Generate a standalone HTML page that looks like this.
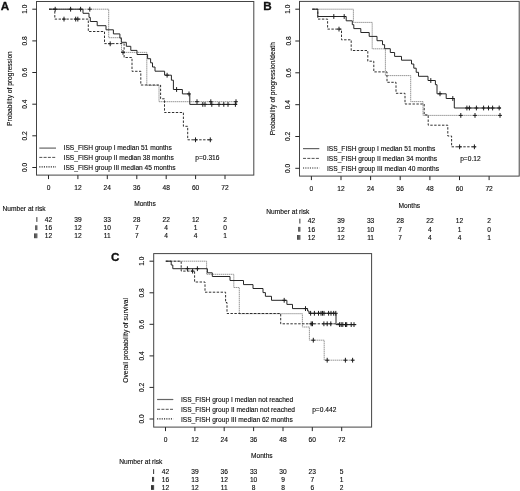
<!DOCTYPE html>
<html><head><meta charset="utf-8"><title>Figure</title>
<style>
html,body{margin:0;padding:0;background:#fff;}
body{width:520px;height:491px;overflow:hidden;font-family:"Liberation Sans", sans-serif;}
svg{display:block;font-family:"Liberation Sans", sans-serif;will-change:transform;}
</style></head>
<body>
<svg width="520" height="491" viewBox="0 0 520 491">
<rect x="0" y="0" width="520" height="491" fill="#ffffff"/>
<rect x="36.5" y="1.5" width="217.3" height="173.6" fill="none" stroke="#444" stroke-width="1"/>
<text x="24.7" y="169.89" text-anchor="middle" font-size="6.63" font-weight="normal" fill="#0a0a0a" stroke="#0a0a0a" stroke-width="0.12" transform="rotate(-90 24.7 167.5)">0.0</text>
<text x="24.7" y="138.23" text-anchor="middle" font-size="6.63" font-weight="normal" fill="#0a0a0a" stroke="#0a0a0a" stroke-width="0.12" transform="rotate(-90 24.7 135.8)">0.2</text>
<text x="24.7" y="106.57" text-anchor="middle" font-size="6.63" font-weight="normal" fill="#0a0a0a" stroke="#0a0a0a" stroke-width="0.12" transform="rotate(-90 24.7 104.2)">0.4</text>
<text x="24.7" y="74.91" text-anchor="middle" font-size="6.63" font-weight="normal" fill="#0a0a0a" stroke="#0a0a0a" stroke-width="0.12" transform="rotate(-90 24.7 72.5)">0.6</text>
<text x="24.7" y="43.25" text-anchor="middle" font-size="6.63" font-weight="normal" fill="#0a0a0a" stroke="#0a0a0a" stroke-width="0.12" transform="rotate(-90 24.7 40.9)">0.8</text>
<text x="24.7" y="11.59" text-anchor="middle" font-size="6.63" font-weight="normal" fill="#0a0a0a" stroke="#0a0a0a" stroke-width="0.12" transform="rotate(-90 24.7 9.2)">1.0</text>
<text x="48.5" y="189.99" text-anchor="middle" font-size="6.63" font-weight="normal" fill="#0a0a0a" stroke="#0a0a0a" stroke-width="0.12">0</text>
<text x="77.9" y="189.99" text-anchor="middle" font-size="6.63" font-weight="normal" fill="#0a0a0a" stroke="#0a0a0a" stroke-width="0.12">12</text>
<text x="107.3" y="189.99" text-anchor="middle" font-size="6.63" font-weight="normal" fill="#0a0a0a" stroke="#0a0a0a" stroke-width="0.12">24</text>
<text x="136.8" y="189.99" text-anchor="middle" font-size="6.63" font-weight="normal" fill="#0a0a0a" stroke="#0a0a0a" stroke-width="0.12">36</text>
<text x="166.2" y="189.99" text-anchor="middle" font-size="6.63" font-weight="normal" fill="#0a0a0a" stroke="#0a0a0a" stroke-width="0.12">48</text>
<text x="195.6" y="189.99" text-anchor="middle" font-size="6.63" font-weight="normal" fill="#0a0a0a" stroke="#0a0a0a" stroke-width="0.12">60</text>
<text x="225.0" y="189.99" text-anchor="middle" font-size="6.63" font-weight="normal" fill="#0a0a0a" stroke="#0a0a0a" stroke-width="0.12">72</text>
<path d="M32.3,167.5H36.5M32.3,135.8H36.5M32.3,104.2H36.5M32.3,72.5H36.5M32.3,40.9H36.5M32.3,9.2H36.5M48.5,175.1V179.1M77.9,175.1V179.1M107.3,175.1V179.1M136.8,175.1V179.1M166.2,175.1V179.1M195.6,175.1V179.1M225.0,175.1V179.1" fill="none" stroke="#262626" stroke-width="1.0"/>
<text x="9.3" y="90.99" text-anchor="middle" font-size="6.63" font-weight="normal" fill="#0a0a0a" stroke="#0a0a0a" stroke-width="0.12" transform="rotate(-90 9.3 88.6)">Probability of progression</text>
<text x="145.0" y="205.89" text-anchor="middle" font-size="6.63" font-weight="normal" fill="#0a0a0a" stroke="#0a0a0a" stroke-width="0.12">Months</text>
<text x="0.8" y="9.71" text-anchor="start" font-size="11.7" font-weight="bold" fill="#111" stroke="#111" stroke-width="0.3">A</text>
<path d="M39.3,148.1H56" stroke="#666" stroke-width="1.2" fill="none"/>
<path d="M39.3,157.4H56" stroke="#262626" stroke-width="0.8" stroke-dasharray="3 1.3" fill="none"/>
<path d="M39.3,166.9H56" stroke="#222" stroke-width="1.2" stroke-dasharray="1.1 1.2" fill="none"/>
<text x="63.6" y="150.49" text-anchor="start" font-size="6.63" font-weight="normal" fill="#0a0a0a" stroke="#0a0a0a" stroke-width="0.12">ISS_FISH group I median 51 months</text>
<text x="63.6" y="159.79" text-anchor="start" font-size="6.63" font-weight="normal" fill="#0a0a0a" stroke="#0a0a0a" stroke-width="0.12">ISS_FISH group II median 38 months</text>
<text x="63.6" y="169.79" text-anchor="start" font-size="6.63" font-weight="normal" fill="#0a0a0a" stroke="#0a0a0a" stroke-width="0.12">ISS_FISH group III median 45 months</text>
<text x="195.3" y="159.79" text-anchor="start" font-size="6.63" font-weight="normal" fill="#0a0a0a" stroke="#0a0a0a" stroke-width="0.12">p=0.316</text>
<path d="M49.0,9.2H108.7V37.7H121.5V52.4H146.8V85.3H159.0V101.7H237.0" fill="none" stroke="#8c8c8c" stroke-width="0.9" stroke-dasharray="1.5 0.5"/>
<path d="M89.8,6.8v4.8M87.9,9.2h3.8M123.0,50.0v4.8M121.1,52.4h3.8M197.0,99.3v4.8M195.1,101.7h3.8M210.8,99.3v4.8M208.9,101.7h3.8M236.0,99.3v4.8M234.1,101.7h3.8" fill="none" stroke="#1c1c1c" stroke-width="1.0"/>
<path d="M49.0,9.2H54.8V19.1H88.3V31.5H104.5V43.6H124.1V57.5H132.0V71.3H140.8V85.0H160.6V98.8H164.5V112.5H183.4V126.3H187.7V139.8H211.0" fill="none" stroke="#262626" stroke-width="0.95" stroke-dasharray="2.4 1.5"/>
<path d="M64.0,16.7v4.8M62.1,19.1h3.8M75.7,16.7v4.8M73.8,19.1h3.8M77.8,16.7v4.8M75.9,19.1h3.8M110.2,41.4v4.8M108.3,43.8h3.8M195.5,137.4v4.8M193.6,139.8h3.8M210.3,137.4v4.8M208.4,139.8h3.8" fill="none" stroke="#1c1c1c" stroke-width="1.0"/>
<path d="M49.0,9.2H83.0V13.3H89.0V17.4H90.3V21.5H97.2V25.7H106.0V29.8H113.4V33.9H119.9V38.1H121.3V42.3H126.3V46.3H130.8V50.4H137.0V54.5H147.6V58.7H150.6V62.8H152.5V67.0H155.0V71.2H164.6V75.2H171.4V80.2H173.4V89.5H182.4V93.9H189.8V104.4H237.0" fill="none" stroke="#262626" stroke-width="1.0" stroke-linejoin="miter"/>
<path d="M55.2,6.8v4.8M53.3,9.2h3.8M70.6,6.8v4.8M68.7,9.2h3.8M80.6,6.8v4.8M78.7,9.2h3.8M167.1,72.8v4.8M165.2,75.2h3.8M176.6,87.1v4.8M174.7,89.5h3.8M189.0,91.5v4.8M187.1,93.9h3.8M202.8,102.0v4.8M200.9,104.4h3.8M205.0,102.0v4.8M203.1,104.4h3.8M211.8,102.0v4.8M209.9,104.4h3.8M219.0,102.0v4.8M217.1,104.4h3.8M223.8,102.0v4.8M221.9,104.4h3.8M228.0,102.0v4.8M226.1,104.4h3.8M235.4,102.0v4.8M233.5,104.4h3.8" fill="none" stroke="#1c1c1c" stroke-width="1.0"/>
<text x="2.5" y="211.49" text-anchor="start" font-size="6.63" font-weight="normal" fill="#0a0a0a" stroke="#0a0a0a" stroke-width="0.12">Number at risk</text>
<rect x="36.45" y="217.10" width="0.85" height="4.8" fill="#111"/>
<text x="48.5" y="221.89" text-anchor="middle" font-size="6.63" font-weight="normal" fill="#0a0a0a" stroke="#0a0a0a" stroke-width="0.12">42</text>
<text x="77.9" y="221.89" text-anchor="middle" font-size="6.63" font-weight="normal" fill="#0a0a0a" stroke="#0a0a0a" stroke-width="0.12">39</text>
<text x="107.3" y="221.89" text-anchor="middle" font-size="6.63" font-weight="normal" fill="#0a0a0a" stroke="#0a0a0a" stroke-width="0.12">33</text>
<text x="136.8" y="221.89" text-anchor="middle" font-size="6.63" font-weight="normal" fill="#0a0a0a" stroke="#0a0a0a" stroke-width="0.12">28</text>
<text x="166.2" y="221.89" text-anchor="middle" font-size="6.63" font-weight="normal" fill="#0a0a0a" stroke="#0a0a0a" stroke-width="0.12">22</text>
<text x="195.6" y="221.89" text-anchor="middle" font-size="6.63" font-weight="normal" fill="#0a0a0a" stroke="#0a0a0a" stroke-width="0.12">12</text>
<text x="225.0" y="221.89" text-anchor="middle" font-size="6.63" font-weight="normal" fill="#0a0a0a" stroke="#0a0a0a" stroke-width="0.12">2</text>
<rect x="36.45" y="225.30" width="0.85" height="4.8" fill="#111"/>
<rect x="35.35" y="225.30" width="0.85" height="4.8" fill="#111"/>
<text x="48.5" y="230.09" text-anchor="middle" font-size="6.63" font-weight="normal" fill="#0a0a0a" stroke="#0a0a0a" stroke-width="0.12">16</text>
<text x="77.9" y="230.09" text-anchor="middle" font-size="6.63" font-weight="normal" fill="#0a0a0a" stroke="#0a0a0a" stroke-width="0.12">12</text>
<text x="107.3" y="230.09" text-anchor="middle" font-size="6.63" font-weight="normal" fill="#0a0a0a" stroke="#0a0a0a" stroke-width="0.12">10</text>
<text x="136.8" y="230.09" text-anchor="middle" font-size="6.63" font-weight="normal" fill="#0a0a0a" stroke="#0a0a0a" stroke-width="0.12">7</text>
<text x="166.2" y="230.09" text-anchor="middle" font-size="6.63" font-weight="normal" fill="#0a0a0a" stroke="#0a0a0a" stroke-width="0.12">4</text>
<text x="195.6" y="230.09" text-anchor="middle" font-size="6.63" font-weight="normal" fill="#0a0a0a" stroke="#0a0a0a" stroke-width="0.12">1</text>
<text x="225.0" y="230.09" text-anchor="middle" font-size="6.63" font-weight="normal" fill="#0a0a0a" stroke="#0a0a0a" stroke-width="0.12">0</text>
<rect x="36.45" y="233.40" width="0.85" height="4.8" fill="#111"/>
<rect x="35.35" y="233.40" width="0.85" height="4.8" fill="#111"/>
<rect x="34.25" y="233.40" width="0.85" height="4.8" fill="#111"/>
<text x="48.5" y="238.19" text-anchor="middle" font-size="6.63" font-weight="normal" fill="#0a0a0a" stroke="#0a0a0a" stroke-width="0.12">12</text>
<text x="77.9" y="238.19" text-anchor="middle" font-size="6.63" font-weight="normal" fill="#0a0a0a" stroke="#0a0a0a" stroke-width="0.12">12</text>
<text x="107.3" y="238.19" text-anchor="middle" font-size="6.63" font-weight="normal" fill="#0a0a0a" stroke="#0a0a0a" stroke-width="0.12">11</text>
<text x="136.8" y="238.19" text-anchor="middle" font-size="6.63" font-weight="normal" fill="#0a0a0a" stroke="#0a0a0a" stroke-width="0.12">7</text>
<text x="166.2" y="238.19" text-anchor="middle" font-size="6.63" font-weight="normal" fill="#0a0a0a" stroke="#0a0a0a" stroke-width="0.12">4</text>
<text x="195.6" y="238.19" text-anchor="middle" font-size="6.63" font-weight="normal" fill="#0a0a0a" stroke="#0a0a0a" stroke-width="0.12">4</text>
<text x="225.0" y="238.19" text-anchor="middle" font-size="6.63" font-weight="normal" fill="#0a0a0a" stroke="#0a0a0a" stroke-width="0.12">1</text>
<rect x="299.5" y="1.4" width="219.7" height="174.7" fill="none" stroke="#444" stroke-width="1"/>
<text x="288.1" y="170.69" text-anchor="middle" font-size="6.63" font-weight="normal" fill="#0a0a0a" stroke="#0a0a0a" stroke-width="0.12" transform="rotate(-90 288.1 168.3)">0.0</text>
<text x="288.1" y="138.87" text-anchor="middle" font-size="6.63" font-weight="normal" fill="#0a0a0a" stroke="#0a0a0a" stroke-width="0.12" transform="rotate(-90 288.1 136.5)">0.2</text>
<text x="288.1" y="107.05" text-anchor="middle" font-size="6.63" font-weight="normal" fill="#0a0a0a" stroke="#0a0a0a" stroke-width="0.12" transform="rotate(-90 288.1 104.7)">0.4</text>
<text x="288.1" y="75.23" text-anchor="middle" font-size="6.63" font-weight="normal" fill="#0a0a0a" stroke="#0a0a0a" stroke-width="0.12" transform="rotate(-90 288.1 72.8)">0.6</text>
<text x="288.1" y="43.41" text-anchor="middle" font-size="6.63" font-weight="normal" fill="#0a0a0a" stroke="#0a0a0a" stroke-width="0.12" transform="rotate(-90 288.1 41.0)">0.8</text>
<text x="288.1" y="11.59" text-anchor="middle" font-size="6.63" font-weight="normal" fill="#0a0a0a" stroke="#0a0a0a" stroke-width="0.12" transform="rotate(-90 288.1 9.2)">1.0</text>
<text x="311.4" y="191.09" text-anchor="middle" font-size="6.63" font-weight="normal" fill="#0a0a0a" stroke="#0a0a0a" stroke-width="0.12">0</text>
<text x="341.0" y="191.09" text-anchor="middle" font-size="6.63" font-weight="normal" fill="#0a0a0a" stroke="#0a0a0a" stroke-width="0.12">12</text>
<text x="370.6" y="191.09" text-anchor="middle" font-size="6.63" font-weight="normal" fill="#0a0a0a" stroke="#0a0a0a" stroke-width="0.12">24</text>
<text x="400.2" y="191.09" text-anchor="middle" font-size="6.63" font-weight="normal" fill="#0a0a0a" stroke="#0a0a0a" stroke-width="0.12">36</text>
<text x="429.9" y="191.09" text-anchor="middle" font-size="6.63" font-weight="normal" fill="#0a0a0a" stroke="#0a0a0a" stroke-width="0.12">48</text>
<text x="459.5" y="191.09" text-anchor="middle" font-size="6.63" font-weight="normal" fill="#0a0a0a" stroke="#0a0a0a" stroke-width="0.12">60</text>
<text x="489.1" y="191.09" text-anchor="middle" font-size="6.63" font-weight="normal" fill="#0a0a0a" stroke="#0a0a0a" stroke-width="0.12">72</text>
<path d="M295.3,168.3H299.5M295.3,136.5H299.5M295.3,104.7H299.5M295.3,72.8H299.5M295.3,41.0H299.5M295.3,9.2H299.5M311.4,176.1V180.1M341.0,176.1V180.1M370.6,176.1V180.1M400.2,176.1V180.1M429.9,176.1V180.1M459.5,176.1V180.1M489.1,176.1V180.1" fill="none" stroke="#262626" stroke-width="1.0"/>
<text x="272.7" y="91.09" text-anchor="middle" font-size="6.63" font-weight="normal" fill="#0a0a0a" stroke="#0a0a0a" stroke-width="0.12" transform="rotate(-90 272.7 88.7)">Probability of progression/death</text>
<text x="409.3" y="207.89" text-anchor="middle" font-size="6.63" font-weight="normal" fill="#0a0a0a" stroke="#0a0a0a" stroke-width="0.12">Months</text>
<text x="263.3" y="9.61" text-anchor="start" font-size="11.7" font-weight="bold" fill="#111" stroke="#111" stroke-width="0.3">B</text>
<path d="M303,148.6H319.3" stroke="#666" stroke-width="1.2" fill="none"/>
<path d="M303,158.4H319.3" stroke="#262626" stroke-width="0.8" stroke-dasharray="3 1.3" fill="none"/>
<path d="M303,168.0H319.3" stroke="#222" stroke-width="1.2" stroke-dasharray="1.1 1.2" fill="none"/>
<text x="327.0" y="150.99" text-anchor="start" font-size="6.63" font-weight="normal" fill="#0a0a0a" stroke="#0a0a0a" stroke-width="0.12">ISS_FISH group I median 51 months</text>
<text x="327.0" y="160.79" text-anchor="start" font-size="6.63" font-weight="normal" fill="#0a0a0a" stroke="#0a0a0a" stroke-width="0.12">ISS_FISH group II median 34 months</text>
<text x="327.0" y="170.89" text-anchor="start" font-size="6.63" font-weight="normal" fill="#0a0a0a" stroke="#0a0a0a" stroke-width="0.12">ISS_FISH group III median 40 months</text>
<text x="460.2" y="160.79" text-anchor="start" font-size="6.63" font-weight="normal" fill="#0a0a0a" stroke="#0a0a0a" stroke-width="0.12">p=0.12</text>
<path d="M312.3,9.2H353.4V22.4H372.2V48.8H385.4V75.6H410.7V101.6H423.0V115.4H501.8" fill="none" stroke="#8c8c8c" stroke-width="0.9" stroke-dasharray="1.5 0.5"/>
<path d="M460.8,113.0v4.8M458.9,115.4h3.8M475.0,113.0v4.8M473.1,115.4h3.8M500.0,113.0v4.8M498.1,115.4h3.8" fill="none" stroke="#1c1c1c" stroke-width="1.0"/>
<path d="M312.3,9.2H317.8V19.1H327.6V29.1H341.5V39.8H351.2V50.5H367.8V61.2H373.8V71.9H387.0V82.3H396.0V93.3H405.0V104.0H424.2V114.9H428.2V125.2H447.8V136.0H451.6V146.8H475.8" fill="none" stroke="#262626" stroke-width="0.95" stroke-dasharray="2.4 1.5"/>
<path d="M339.0,26.7v4.8M337.1,29.1h3.8M459.6,144.4v4.8M457.7,146.8h3.8M474.4,144.4v4.8M472.5,146.8h3.8" fill="none" stroke="#1c1c1c" stroke-width="1.0"/>
<path d="M312.3,9.2H317.8V16.5H346.2V20.8H352.3V24.7H353.8V28.6H360.8V32.5H369.2V36.4H377.0V40.7H382.5V44.7H384.6V48.7H390.3V52.5H394.6V56.4H401.5V60.2H411.5V64.0H413.8V68.2H416.2V72.3H418.5V76.3H428.0V80.5H435.4V84.7H437.0V93.8H446.2V98.5H454.3V108.0H501.0" fill="none" stroke="#262626" stroke-width="1.0" stroke-linejoin="miter"/>
<path d="M333.8,14.1v4.8M331.9,16.5h3.8M344.2,14.1v4.8M342.3,16.5h3.8M430.8,78.1v4.8M428.9,80.5h3.8M440.0,91.4v4.8M438.1,93.8h3.8M452.8,96.1v4.8M450.9,98.5h3.8M466.9,105.6v4.8M465.0,108.0h3.8M469.4,105.6v4.8M467.5,108.0h3.8M476.4,105.6v4.8M474.5,108.0h3.8M483.6,105.6v4.8M481.7,108.0h3.8M488.5,105.6v4.8M486.6,108.0h3.8M492.6,105.6v4.8M490.7,108.0h3.8M499.2,105.6v4.8M497.3,108.0h3.8" fill="none" stroke="#1c1c1c" stroke-width="1.0"/>
<text x="266.3" y="213.79" text-anchor="start" font-size="6.63" font-weight="normal" fill="#0a0a0a" stroke="#0a0a0a" stroke-width="0.12">Number at risk</text>
<rect x="299.45" y="218.70" width="0.85" height="4.8" fill="#111"/>
<text x="311.4" y="223.49" text-anchor="middle" font-size="6.63" font-weight="normal" fill="#0a0a0a" stroke="#0a0a0a" stroke-width="0.12">42</text>
<text x="341.0" y="223.49" text-anchor="middle" font-size="6.63" font-weight="normal" fill="#0a0a0a" stroke="#0a0a0a" stroke-width="0.12">39</text>
<text x="370.6" y="223.49" text-anchor="middle" font-size="6.63" font-weight="normal" fill="#0a0a0a" stroke="#0a0a0a" stroke-width="0.12">33</text>
<text x="400.2" y="223.49" text-anchor="middle" font-size="6.63" font-weight="normal" fill="#0a0a0a" stroke="#0a0a0a" stroke-width="0.12">28</text>
<text x="429.9" y="223.49" text-anchor="middle" font-size="6.63" font-weight="normal" fill="#0a0a0a" stroke="#0a0a0a" stroke-width="0.12">22</text>
<text x="459.5" y="223.49" text-anchor="middle" font-size="6.63" font-weight="normal" fill="#0a0a0a" stroke="#0a0a0a" stroke-width="0.12">12</text>
<text x="489.1" y="223.49" text-anchor="middle" font-size="6.63" font-weight="normal" fill="#0a0a0a" stroke="#0a0a0a" stroke-width="0.12">2</text>
<rect x="299.45" y="226.90" width="0.85" height="4.8" fill="#111"/>
<rect x="298.35" y="226.90" width="0.85" height="4.8" fill="#111"/>
<text x="311.4" y="231.69" text-anchor="middle" font-size="6.63" font-weight="normal" fill="#0a0a0a" stroke="#0a0a0a" stroke-width="0.12">16</text>
<text x="341.0" y="231.69" text-anchor="middle" font-size="6.63" font-weight="normal" fill="#0a0a0a" stroke="#0a0a0a" stroke-width="0.12">12</text>
<text x="370.6" y="231.69" text-anchor="middle" font-size="6.63" font-weight="normal" fill="#0a0a0a" stroke="#0a0a0a" stroke-width="0.12">10</text>
<text x="400.2" y="231.69" text-anchor="middle" font-size="6.63" font-weight="normal" fill="#0a0a0a" stroke="#0a0a0a" stroke-width="0.12">7</text>
<text x="429.9" y="231.69" text-anchor="middle" font-size="6.63" font-weight="normal" fill="#0a0a0a" stroke="#0a0a0a" stroke-width="0.12">4</text>
<text x="459.5" y="231.69" text-anchor="middle" font-size="6.63" font-weight="normal" fill="#0a0a0a" stroke="#0a0a0a" stroke-width="0.12">1</text>
<text x="489.1" y="231.69" text-anchor="middle" font-size="6.63" font-weight="normal" fill="#0a0a0a" stroke="#0a0a0a" stroke-width="0.12">0</text>
<rect x="299.45" y="235.00" width="0.85" height="4.8" fill="#111"/>
<rect x="298.35" y="235.00" width="0.85" height="4.8" fill="#111"/>
<rect x="297.25" y="235.00" width="0.85" height="4.8" fill="#111"/>
<text x="311.4" y="239.79" text-anchor="middle" font-size="6.63" font-weight="normal" fill="#0a0a0a" stroke="#0a0a0a" stroke-width="0.12">12</text>
<text x="341.0" y="239.79" text-anchor="middle" font-size="6.63" font-weight="normal" fill="#0a0a0a" stroke="#0a0a0a" stroke-width="0.12">12</text>
<text x="370.6" y="239.79" text-anchor="middle" font-size="6.63" font-weight="normal" fill="#0a0a0a" stroke="#0a0a0a" stroke-width="0.12">11</text>
<text x="400.2" y="239.79" text-anchor="middle" font-size="6.63" font-weight="normal" fill="#0a0a0a" stroke="#0a0a0a" stroke-width="0.12">7</text>
<text x="429.9" y="239.79" text-anchor="middle" font-size="6.63" font-weight="normal" fill="#0a0a0a" stroke="#0a0a0a" stroke-width="0.12">4</text>
<text x="459.5" y="239.79" text-anchor="middle" font-size="6.63" font-weight="normal" fill="#0a0a0a" stroke="#0a0a0a" stroke-width="0.12">4</text>
<text x="489.1" y="239.79" text-anchor="middle" font-size="6.63" font-weight="normal" fill="#0a0a0a" stroke="#0a0a0a" stroke-width="0.12">1</text>
<rect x="153.7" y="253.6" width="217.9" height="173.5" fill="none" stroke="#444" stroke-width="1"/>
<text x="141.7" y="421.39" text-anchor="middle" font-size="6.63" font-weight="normal" fill="#0a0a0a" stroke="#0a0a0a" stroke-width="0.12" transform="rotate(-90 141.7 419.0)">0.0</text>
<text x="141.7" y="389.83" text-anchor="middle" font-size="6.63" font-weight="normal" fill="#0a0a0a" stroke="#0a0a0a" stroke-width="0.12" transform="rotate(-90 141.7 387.4)">0.2</text>
<text x="141.7" y="358.27" text-anchor="middle" font-size="6.63" font-weight="normal" fill="#0a0a0a" stroke="#0a0a0a" stroke-width="0.12" transform="rotate(-90 141.7 355.9)">0.4</text>
<text x="141.7" y="326.71" text-anchor="middle" font-size="6.63" font-weight="normal" fill="#0a0a0a" stroke="#0a0a0a" stroke-width="0.12" transform="rotate(-90 141.7 324.3)">0.6</text>
<text x="141.7" y="295.15" text-anchor="middle" font-size="6.63" font-weight="normal" fill="#0a0a0a" stroke="#0a0a0a" stroke-width="0.12" transform="rotate(-90 141.7 292.8)">0.8</text>
<text x="141.7" y="263.59" text-anchor="middle" font-size="6.63" font-weight="normal" fill="#0a0a0a" stroke="#0a0a0a" stroke-width="0.12" transform="rotate(-90 141.7 261.2)">1.0</text>
<text x="165.5" y="441.69" text-anchor="middle" font-size="6.63" font-weight="normal" fill="#0a0a0a" stroke="#0a0a0a" stroke-width="0.12">0</text>
<text x="194.9" y="441.69" text-anchor="middle" font-size="6.63" font-weight="normal" fill="#0a0a0a" stroke="#0a0a0a" stroke-width="0.12">12</text>
<text x="224.2" y="441.69" text-anchor="middle" font-size="6.63" font-weight="normal" fill="#0a0a0a" stroke="#0a0a0a" stroke-width="0.12">24</text>
<text x="253.6" y="441.69" text-anchor="middle" font-size="6.63" font-weight="normal" fill="#0a0a0a" stroke="#0a0a0a" stroke-width="0.12">36</text>
<text x="283.0" y="441.69" text-anchor="middle" font-size="6.63" font-weight="normal" fill="#0a0a0a" stroke="#0a0a0a" stroke-width="0.12">48</text>
<text x="312.3" y="441.69" text-anchor="middle" font-size="6.63" font-weight="normal" fill="#0a0a0a" stroke="#0a0a0a" stroke-width="0.12">60</text>
<text x="341.7" y="441.69" text-anchor="middle" font-size="6.63" font-weight="normal" fill="#0a0a0a" stroke="#0a0a0a" stroke-width="0.12">72</text>
<path d="M149.5,419.0H153.7M149.5,387.4H153.7M149.5,355.9H153.7M149.5,324.3H153.7M149.5,292.8H153.7M149.5,261.2H153.7M165.5,427.1V431.1M194.9,427.1V431.1M224.2,427.1V431.1M253.6,427.1V431.1M283.0,427.1V431.1M312.3,427.1V431.1M341.7,427.1V431.1" fill="none" stroke="#262626" stroke-width="1.0"/>
<text x="125.8" y="342.79" text-anchor="middle" font-size="6.63" font-weight="normal" fill="#0a0a0a" stroke="#0a0a0a" stroke-width="0.12" transform="rotate(-90 125.8 340.4)">Overall probability of survival</text>
<text x="261.8" y="458.39" text-anchor="middle" font-size="6.63" font-weight="normal" fill="#0a0a0a" stroke="#0a0a0a" stroke-width="0.12">Months</text>
<text x="111.0" y="260.51" text-anchor="start" font-size="11.7" font-weight="bold" fill="#111" stroke="#111" stroke-width="0.3">C</text>
<path d="M157.1,399.5H173.3" stroke="#666" stroke-width="1.2" fill="none"/>
<path d="M157.1,409.3H173.3" stroke="#262626" stroke-width="0.8" stroke-dasharray="3 1.3" fill="none"/>
<path d="M157.1,418.9H173.3" stroke="#222" stroke-width="1.2" stroke-dasharray="1.1 1.2" fill="none"/>
<text x="180.9" y="401.89" text-anchor="start" font-size="6.63" font-weight="normal" fill="#0a0a0a" stroke="#0a0a0a" stroke-width="0.12">ISS_FISH group I median not reached</text>
<text x="180.9" y="411.69" text-anchor="start" font-size="6.63" font-weight="normal" fill="#0a0a0a" stroke="#0a0a0a" stroke-width="0.12">ISS_FISH group II median not reached</text>
<text x="180.9" y="421.59" text-anchor="start" font-size="6.63" font-weight="normal" fill="#0a0a0a" stroke="#0a0a0a" stroke-width="0.12">ISS_FISH group III median 62 months</text>
<text x="312.2" y="411.69" text-anchor="start" font-size="6.63" font-weight="normal" fill="#0a0a0a" stroke="#0a0a0a" stroke-width="0.12">p=0.442</text>
<path d="M165.8,261.2H206.6V274.3H233.8V287.5H239.3V313.7H302.4V327.0H309.4V340.2H324.2V360.2H355.0" fill="none" stroke="#8c8c8c" stroke-width="0.9" stroke-dasharray="1.5 0.5"/>
<path d="M313.3,337.8v4.8M311.4,340.2h3.8M327.2,357.8v4.8M325.3,360.2h3.8M345.4,357.8v4.8M343.5,360.2h3.8M352.6,357.8v4.8M350.7,360.2h3.8" fill="none" stroke="#1c1c1c" stroke-width="1.0"/>
<path d="M165.8,261.2H181.2V271.1H194.6V282.0H205.0V292.2H225.6V302.5H227.0V313.5H280.7V323.8H340.0" fill="none" stroke="#262626" stroke-width="0.95" stroke-dasharray="2.4 1.5"/>
<path d="M192.6,268.7v4.8M190.7,271.1h3.8M311.2,321.4v4.8M309.3,323.8h3.8M312.5,321.4v4.8M310.6,323.8h3.8M323.9,321.4v4.8M322.0,323.8h3.8M327.2,321.4v4.8M325.3,323.8h3.8M330.8,321.4v4.8M328.9,323.8h3.8" fill="none" stroke="#1c1c1c" stroke-width="1.0"/>
<path d="M165.8,261.2H171.2V265.0H172.8V268.7H207.4V272.8H212.3V276.5H230.0V280.5H243.5V284.6H253.0V288.5H263.0V292.6H265.4V296.3H271.5V300.3H286.9V304.4H292.5V308.6H307.6V311.0H309.0V313.3H336.0V324.6H356.3" fill="none" stroke="#262626" stroke-width="1.0" stroke-linejoin="miter"/>
<path d="M187.4,266.3v4.8M185.5,268.7h3.8M197.4,266.3v4.8M195.5,268.7h3.8M284.2,297.9v4.8M282.3,300.3h3.8M305.5,306.2v4.8M303.6,308.6h3.8M310.6,310.9v4.8M308.7,313.3h3.8M314.4,310.9v4.8M312.5,313.3h3.8M318.5,310.9v4.8M316.6,313.3h3.8M321.0,310.9v4.8M319.1,313.3h3.8M322.5,310.9v4.8M320.6,313.3h3.8M324.0,310.9v4.8M322.1,313.3h3.8M328.6,310.9v4.8M326.7,313.3h3.8M331.0,310.9v4.8M329.1,313.3h3.8M333.7,310.9v4.8M331.8,313.3h3.8M335.8,310.9v4.8M333.9,313.3h3.8M339.6,322.2v4.8M337.7,324.6h3.8M341.2,322.2v4.8M339.3,324.6h3.8M342.8,322.2v4.8M340.9,324.6h3.8M345.5,322.2v4.8M343.6,324.6h3.8M346.7,322.2v4.8M344.8,324.6h3.8M351.2,322.2v4.8M349.3,324.6h3.8M354.0,322.2v4.8M352.1,324.6h3.8" fill="none" stroke="#1c1c1c" stroke-width="1.0"/>
<text x="119.3" y="463.59" text-anchor="start" font-size="6.63" font-weight="normal" fill="#0a0a0a" stroke="#0a0a0a" stroke-width="0.12">Number at risk</text>
<rect x="153.25" y="469.20" width="0.85" height="4.8" fill="#111"/>
<text x="165.5" y="473.99" text-anchor="middle" font-size="6.63" font-weight="normal" fill="#0a0a0a" stroke="#0a0a0a" stroke-width="0.12">42</text>
<text x="194.9" y="473.99" text-anchor="middle" font-size="6.63" font-weight="normal" fill="#0a0a0a" stroke="#0a0a0a" stroke-width="0.12">39</text>
<text x="224.2" y="473.99" text-anchor="middle" font-size="6.63" font-weight="normal" fill="#0a0a0a" stroke="#0a0a0a" stroke-width="0.12">36</text>
<text x="253.6" y="473.99" text-anchor="middle" font-size="6.63" font-weight="normal" fill="#0a0a0a" stroke="#0a0a0a" stroke-width="0.12">33</text>
<text x="283.0" y="473.99" text-anchor="middle" font-size="6.63" font-weight="normal" fill="#0a0a0a" stroke="#0a0a0a" stroke-width="0.12">30</text>
<text x="312.3" y="473.99" text-anchor="middle" font-size="6.63" font-weight="normal" fill="#0a0a0a" stroke="#0a0a0a" stroke-width="0.12">23</text>
<text x="341.7" y="473.99" text-anchor="middle" font-size="6.63" font-weight="normal" fill="#0a0a0a" stroke="#0a0a0a" stroke-width="0.12">5</text>
<rect x="153.25" y="476.90" width="0.85" height="4.8" fill="#111"/>
<rect x="152.15" y="476.90" width="0.85" height="4.8" fill="#111"/>
<text x="165.5" y="481.69" text-anchor="middle" font-size="6.63" font-weight="normal" fill="#0a0a0a" stroke="#0a0a0a" stroke-width="0.12">16</text>
<text x="194.9" y="481.69" text-anchor="middle" font-size="6.63" font-weight="normal" fill="#0a0a0a" stroke="#0a0a0a" stroke-width="0.12">13</text>
<text x="224.2" y="481.69" text-anchor="middle" font-size="6.63" font-weight="normal" fill="#0a0a0a" stroke="#0a0a0a" stroke-width="0.12">12</text>
<text x="253.6" y="481.69" text-anchor="middle" font-size="6.63" font-weight="normal" fill="#0a0a0a" stroke="#0a0a0a" stroke-width="0.12">10</text>
<text x="283.0" y="481.69" text-anchor="middle" font-size="6.63" font-weight="normal" fill="#0a0a0a" stroke="#0a0a0a" stroke-width="0.12">9</text>
<text x="312.3" y="481.69" text-anchor="middle" font-size="6.63" font-weight="normal" fill="#0a0a0a" stroke="#0a0a0a" stroke-width="0.12">7</text>
<text x="341.7" y="481.69" text-anchor="middle" font-size="6.63" font-weight="normal" fill="#0a0a0a" stroke="#0a0a0a" stroke-width="0.12">1</text>
<rect x="153.25" y="485.10" width="0.85" height="4.8" fill="#111"/>
<rect x="152.15" y="485.10" width="0.85" height="4.8" fill="#111"/>
<rect x="151.05" y="485.10" width="0.85" height="4.8" fill="#111"/>
<text x="165.5" y="489.89" text-anchor="middle" font-size="6.63" font-weight="normal" fill="#0a0a0a" stroke="#0a0a0a" stroke-width="0.12">12</text>
<text x="194.9" y="489.89" text-anchor="middle" font-size="6.63" font-weight="normal" fill="#0a0a0a" stroke="#0a0a0a" stroke-width="0.12">12</text>
<text x="224.2" y="489.89" text-anchor="middle" font-size="6.63" font-weight="normal" fill="#0a0a0a" stroke="#0a0a0a" stroke-width="0.12">11</text>
<text x="253.6" y="489.89" text-anchor="middle" font-size="6.63" font-weight="normal" fill="#0a0a0a" stroke="#0a0a0a" stroke-width="0.12">8</text>
<text x="283.0" y="489.89" text-anchor="middle" font-size="6.63" font-weight="normal" fill="#0a0a0a" stroke="#0a0a0a" stroke-width="0.12">8</text>
<text x="312.3" y="489.89" text-anchor="middle" font-size="6.63" font-weight="normal" fill="#0a0a0a" stroke="#0a0a0a" stroke-width="0.12">6</text>
<text x="341.7" y="489.89" text-anchor="middle" font-size="6.63" font-weight="normal" fill="#0a0a0a" stroke="#0a0a0a" stroke-width="0.12">2</text>
</svg>
</body></html>
